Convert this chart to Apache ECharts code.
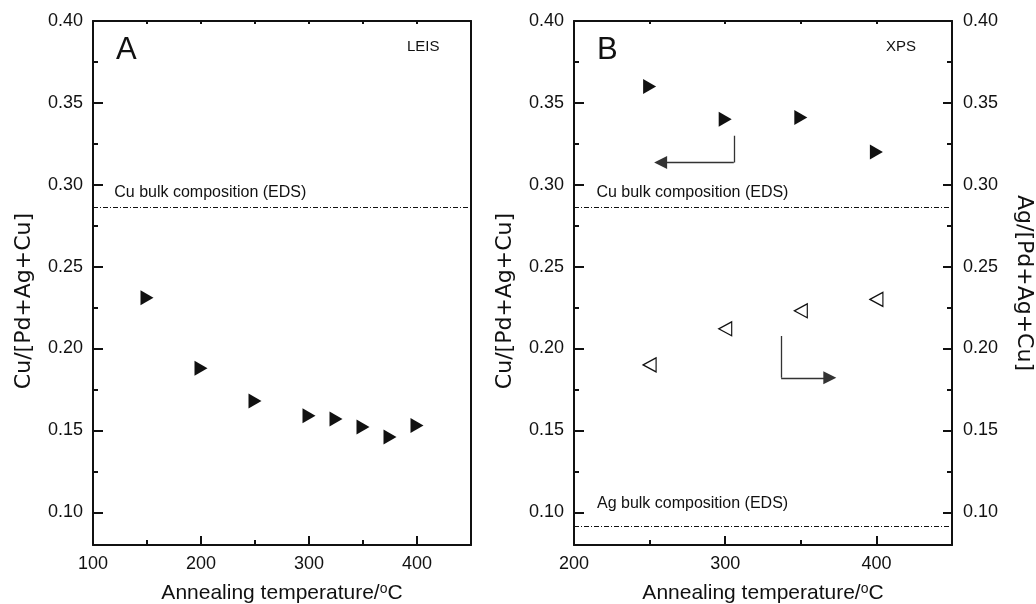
<!DOCTYPE html>
<html>
<head>
<meta charset="utf-8">
<script src="https://cdn.jsdelivr.net/npm/echarts@6/dist/echarts.min.js"></script>
<style>
  html, body { margin: 0; padding: 0; background: #fff; }
  #chart { width: 1036px; height: 604px; }
</style>
</head>
<body>
<div id="chart"></div>
<script>
// ---- data ----
const leisTemp = [150, 200, 250, 300, 325, 350, 375, 400];
const leisCu   = [0.231, 0.188, 0.168, 0.159, 0.157, 0.152, 0.146, 0.153];

const xpsTemp = [250, 300, 350, 400];
const xpsCu   = [0.360, 0.340, 0.341, 0.320];
const xpsAg   = [0.190, 0.212, 0.223, 0.230];

const cuBulk = 0.2864;   // Cu bulk composition (EDS)
const agBulk = 0.0915;   // Ag bulk composition (EDS)

const xLabelsA = [100, 200, 300, 400];
const xLabelsB = [200, 300, 400];
const yLabels  = [0.10, 0.15, 0.20, 0.25, 0.30, 0.35, 0.40];
const yMinor   = [0.125, 0.175, 0.225, 0.275, 0.325, 0.375];

// ---- styling ----
const INK = '#111';
const FONT = '"Liberation Sans", Arial, Helvetica, sans-serif';
const YFONT = '"DejaVu Sans", "Liberation Sans", sans-serif';
const TICK_FS = 18;
const XNAME_FS = 21;
const YNAME_FS = 22;

const chart = echarts.init(document.getElementById('chart'), null, { renderer: 'canvas' });

const xName = {
  name: 'Annealing temperature/{sup|o}C',
  nameLocation: 'middle',
  nameGap: 37,
  nameTextStyle: {
    fontSize: XNAME_FS, color: INK, fontFamily: FONT,
    rich: { sup: { fontSize: 14, color: INK, fontFamily: FONT, padding: [0, 0, 9, 0] } }
  }
};

function line(show) {
  return { show: show, onZero: false, lineStyle: { color: INK, width: 2 } };
}
function ticks(values, len) {
  return { show: true, inside: true, length: len, customValues: values, lineStyle: { color: INK, width: 2 } };
}
function labels(values, margin, fmt) {
  return { show: true, customValues: values, margin: margin, fontSize: TICK_FS, color: INK, fontFamily: FONT, formatter: fmt };
}
const noLabel = { show: false };
const noSplit = { show: false };
const yFmt = v => Number(v).toFixed(2);

function xAx(grid, pos, min, max, extra) {
  return Object.assign({ type: 'value', gridIndex: grid, position: pos, min: min, max: max, splitLine: noSplit }, extra);
}
function yAx(grid, pos, extra) {
  return Object.assign({ type: 'value', gridIndex: grid, position: pos, min: 0.08, max: 0.40, splitLine: noSplit }, extra);
}

const xAxes = [
  // panel A
  xAx(0, 'bottom', 100, 450, Object.assign({ axisLine: line(true), axisTick: ticks([200, 300, 400], 9), axisLabel: labels(xLabelsA, 10) }, xName)),
  xAx(0, 'bottom', 100, 450, { axisLine: line(false), axisTick: ticks([150, 250, 350], 5), axisLabel: noLabel }),
  xAx(0, 'top', 100, 450, { axisLine: line(true), axisTick: ticks([150, 200, 250, 300, 350, 400], 3), axisLabel: noLabel }),
  // panel B
  xAx(1, 'bottom', 200, 450, Object.assign({ axisLine: line(true), axisTick: ticks([300, 400], 9), axisLabel: labels(xLabelsB, 10) }, xName)),
  xAx(1, 'bottom', 200, 450, { axisLine: line(false), axisTick: ticks([250, 350], 5), axisLabel: noLabel }),
  xAx(1, 'top', 200, 450, { axisLine: line(true), axisTick: ticks([250, 300, 350, 400], 3), axisLabel: noLabel })
];

// left titles sit a little below the axis centre
const yNameLeft = { fontSize: YNAME_FS, color: INK, fontFamily: YFONT, padding: [0, 36, 0, 0] };
const yNameRight = { fontSize: YNAME_FS, color: INK, fontFamily: YFONT, padding: [0, 0, 0, 0] };
const yAxes = [
  // panel A
  yAx(0, 'left', { axisLine: line(true), axisTick: ticks(yLabels, 10), axisLabel: labels(yLabels, 10, yFmt),
    name: 'Cu/[Pd+Ag+Cu]', nameLocation: 'middle', nameGap: 58, nameTextStyle: yNameLeft }),
  yAx(0, 'left', { axisLine: line(false), axisTick: ticks(yMinor, 5), axisLabel: noLabel }),
  yAx(0, 'right', { axisLine: line(true), axisTick: { show: false }, axisLabel: noLabel }),
  // panel B
  yAx(1, 'left', { axisLine: line(true), axisTick: ticks(yLabels, 10), axisLabel: labels(yLabels, 10, yFmt),
    name: 'Cu/[Pd+Ag+Cu]', nameLocation: 'middle', nameGap: 58, nameTextStyle: yNameLeft }),
  yAx(1, 'left', { axisLine: line(false), axisTick: ticks(yMinor, 5), axisLabel: noLabel }),
  yAx(1, 'right', { axisLine: line(true), axisTick: ticks(yLabels, 9), axisLabel: labels(yLabels, 11, yFmt),
    name: 'Ag/[Pd+Ag+Cu]', nameLocation: 'middle', nameGap: 61, nameRotate: -90, nameTextStyle: yNameRight }),
  yAx(1, 'right', { axisLine: line(false), axisTick: ticks(yMinor, 5), axisLabel: noLabel })
];

const zip = (xs, ys) => xs.map((x, i) => [x, ys[i]]);

function bulkLine(value) {
  return {
    silent: true, symbol: 'none', precision: 4,
    lineStyle: { color: INK, width: 1, type: [5, 2, 1, 2] },
    label: { show: false },
    emphasis: { disabled: true },
    data: [{ yAxis: value }]
  };
}
function note(coord, text) {
  return {
    silent: true, symbol: 'circle', symbolSize: 0,
    itemStyle: { color: 'transparent' },
    label: { show: true, position: [0, 0], align: 'left', verticalAlign: 'middle',
             formatter: text, fontSize: 16, color: INK, fontFamily: FONT },
    data: [{ coord: coord }]
  };
}

const filledRight = {
  type: 'scatter', symbol: 'triangle', symbolRotate: -90, symbolSize: [15, 13],
  itemStyle: { color: INK, opacity: 1 }, silent: true, z: 5
};

const series = [
  Object.assign({}, filledRight, {
    name: 'LEIS Cu', xAxisIndex: 0, yAxisIndex: 0, data: zip(leisTemp, leisCu),
    markLine: bulkLine(cuBulk),
    markPoint: note([119.7, 0.2951], 'Cu bulk composition (EDS)')
  }),
  Object.assign({}, filledRight, {
    name: 'XPS Cu', xAxisIndex: 3, yAxisIndex: 3, data: zip(xpsTemp, xpsCu),
    markLine: bulkLine(cuBulk),
    markPoint: note([214.8, 0.2951], 'Cu bulk composition (EDS)')
  }),
  {
    name: 'XPS Ag', type: 'scatter', xAxisIndex: 3, yAxisIndex: 5, data: zip(xpsTemp, xpsAg),
    symbol: 'triangle', symbolRotate: 90, symbolSize: [14, 13], silent: true, z: 5,
    itemStyle: { color: '#fff', borderColor: INK, borderWidth: 1.2, opacity: 1 },
    markLine: bulkLine(agBulk),
    markPoint: note([215.2, 0.1051], 'Ag bulk composition (EDS)')
  },
  // arrows pointing each series to its own axis: stems
  {
    type: 'lines', coordinateSystem: 'cartesian2d', xAxisIndex: 3, yAxisIndex: 3, silent: true,
    symbol: 'none', lineStyle: { color: '#333', width: 1.3, opacity: 1 },
    data: [
      { coords: [[305.7, 0.3299], [305.7, 0.3136]] },
      { coords: [[337.0, 0.2077], [337.0, 0.1821]] }
    ]
  },
  // arrows: heads
  {
    type: 'lines', coordinateSystem: 'cartesian2d', xAxisIndex: 3, yAxisIndex: 3, silent: true,
    symbol: ['none', 'triangle'], symbolSize: [7, 13],
    lineStyle: { color: '#333', width: 1.3, opacity: 1 },
    itemStyle: { color: INK },
    data: [
      { coords: [[305.7, 0.3136], [257.3, 0.3136]] },
      { coords: [[337.0, 0.1821], [369.2, 0.1821]] }
    ]
  }
];

function panelText(x, y, text, size) {
  return { type: 'text', x: x, y: y, silent: true,
    style: { text: text, fontSize: size, fontFamily: FONT, fill: INK, textVerticalAlign: 'middle', textAlign: 'left' } };
}

chart.setOption({
  animation: false,
  backgroundColor: '#fff',
  textStyle: { fontFamily: FONT, color: INK },
  grid: [
    { left: 93, top: 21, width: 378, height: 524, outerBoundsMode: 'none' },
    { left: 574, top: 21, width: 378, height: 524, outerBoundsMode: 'none' }
  ],
  xAxis: xAxes,
  yAxis: yAxes,
  series: series,
  graphic: [
    panelText(116, 50, 'A', 31),
    panelText(407, 47, 'LEIS', 15),
    panelText(597, 50, 'B', 31),
    panelText(886, 47, 'XPS', 15)
  ]
});
</script>
</body>
</html>
